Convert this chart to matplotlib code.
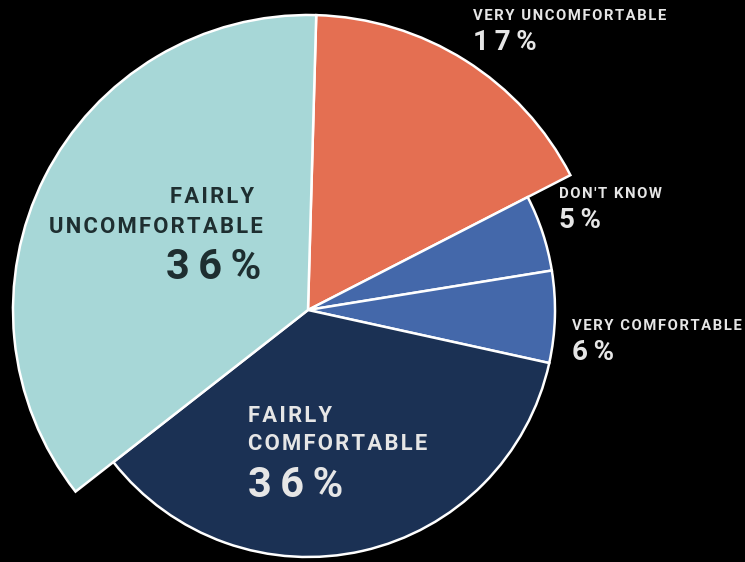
import matplotlib
matplotlib.use("Agg")
import matplotlib.pyplot as plt

# data, clockwise from the top
labels = ["VERY UNCOMFORTABLE", "DON'T KNOW", "VERY COMFORTABLE",
          "FAIRLY COMFORTABLE", "FAIRLY UNCOMFORTABLE"]
values = [17, 5, 6, 36, 36]
colors = ["#E46F52", "#4468AA", "#4468AA", "#1B3154", "#A7D7D7"]
big = [True, False, False, False, True]  # slices drawn with the larger radius

W, H = 745, 562
cx, cy = 308, H - 310
r_small, r_big = 247, 295

plt.rcParams['font.family'] = ['Roboto', 'DejaVu Sans']

fig = plt.figure(figsize=(W / 100, H / 100), dpi=100, facecolor="black")
ax = fig.add_axes([0, 0, 1, 1])
ax.set_facecolor("black")

wedges, _ = ax.pie(values, colors=colors, startangle=88.4, counterclock=False,
                   center=(cx, cy), radius=r_small,
                   wedgeprops=dict(edgecolor="white", linewidth=1.8))
for w, b in zip(wedges, big):
    if b:
        w.set_radius(r_big)

ax.set_xlim(0, W)
ax.set_ylim(0, H)
ax.set_aspect("equal")
ax.axis("off")

def spaced(s, sep="\u200a"):
    return sep.join(s)

light = "#E6E6E6"
dark = "#1E2E30"

def txt(x, y, s, size, color, ha="left", sep="\u200a"):
    ax.text(x, H - y, spaced(s, sep), fontsize=size, color=color, ha=ha,
            va="baseline", fontweight="bold")

# outside labels
txt(473, 20, labels[0], 10.7, light)
txt(473, 50, f"{values[0]}%", 20, light, sep="\u2009")
txt(559, 198, labels[1], 10.7, light)
txt(559, 228, f"{values[1]}%", 20, light, sep="\u2009")
txt(572, 330, labels[2], 10.7, light)
txt(572, 360, f"{values[2]}%", 20, light, sep="\u2009")

# inside labels
txt(254, 203, "FAIRLY", 15.8, dark, ha="right")
txt(263, 233, "UNCOMFORTABLE", 15.8, dark, ha="right")
txt(261, 279, f"{values[4]}%", 30, dark, ha="right", sep="\u2009")

txt(248, 422, "FAIRLY", 15.8, light)
txt(248, 450, "COMFORTABLE", 15.8, light)
txt(248, 497, f"{values[3]}%", 30, light, sep="\u2009")

fig.savefig("out.png", dpi=100, facecolor="black")
